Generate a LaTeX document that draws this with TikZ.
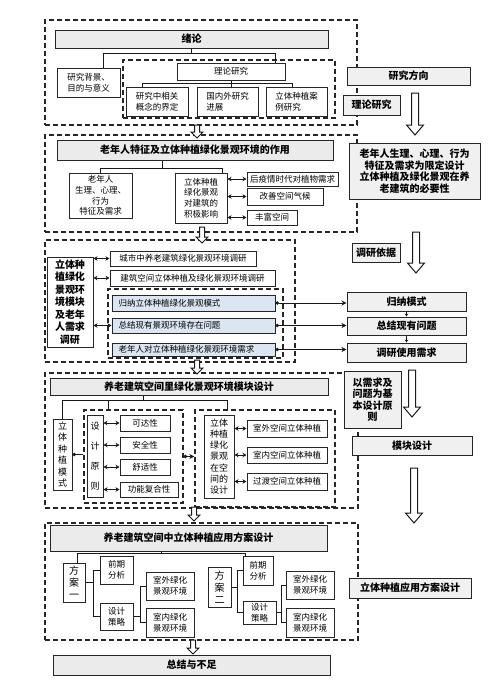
\documentclass[tikz,border=0pt]{standalone}
\usepackage{fontspec}
\setmainfont{Noto Sans CJK SC}
\usetikzlibrary{arrows.meta}
\definecolor{lblue}{HTML}{DCE6F2}
\newcommand\fs[2]{\fontsize{#1}{#2}\selectfont}
\newcommand\bx[7][]{\node[box,#1,minimum width={(#5-#3)*1pt},minimum height={(#6-#4)*1pt}] (#2) at ({(#3+#5)/2},{(#4+#6)/2}) {#7};}
\newcommand\harrow[6]{\draw[hollow] (#1-#4,#2) -- (#1+#4,#2) -- (#1+#4,#3-#6) -- (#1+#5,#3-#6) -- (#1,#3) -- (#1-#5,#3-#6) -- (#1-#4,#3-#6) -- cycle;}
\tikzset{
 box/.style={draw=black!85, line width=1pt, fill=white, inner sep=1pt, align=center, font=\fs{8.5}{10.8}},
 tbox/.style={fill=black!8, font=\bfseries\fs{10}{12}},
 rbox/.style={fill=black!6, font=\bfseries\fs{10}{11.5}},
 bbox/.style={fill=lblue, align=left, text width=150pt, inner xsep=6pt},
 dbox/.style={draw=black!85, fill=none, line width=1.3pt, dash pattern=on 5pt off 3pt},
 conn/.style={draw=black!90, line width=1pt},
 dbl/.style={conn, {Stealth[length=4pt,width=4.5pt]}-{Stealth[length=4pt,width=4.5pt]}},
 dotarr/.style={conn, {Circle[length=3.5pt]}-{Stealth[length=5pt,width=5pt]}},
 hollow/.style={draw=black!90, line width=1pt, fill=white},
}
\begin{document}
\begin{tikzpicture}[x=1pt,y=-1pt]
\useasboundingbox[fill=white] (0,0) rectangle (500,681);
% dashed section frames
\bx[dbox]{s1}{45}{20}{357}{125}{}
\bx[dbox]{s1i}{123}{60}{335}{118}{}
\bx[dbox]{s2}{45}{135}{357}{232}{}
\bx[dbox]{s3}{45}{240}{295}{362}{}
\bx[dbox]{s3i}{108}{289}{283}{358}{}
\bx[dbox]{s4}{45}{373}{358}{508}{}
\bx[dbox]{d41}{84}{410}{183}{503}{}
\bx[dbox]{d42}{195}{410}{335}{507}{}
\bx[dbox]{s5}{45}{523}{358}{640}{}
% hollow arrows
\harrow{197}{125}{138}{2.5}{6}{6}
\harrow{202}{227}{243}{2.5}{6}{6}
\harrow{197}{360}{374}{2.5}{6}{6}
\harrow{194}{507}{521}{2.5}{6}{6}
\harrow{193}{640}{654}{2.5}{6}{6}
\harrow{415}{93}{135}{3.5}{8.5}{10}
\harrow{416}{232}{273}{3.5}{8.5}{10}
\harrow{412}{370}{417}{3.5}{8.5}{10}
\harrow{414}{468}{523}{3.5}{8.5}{10}
% section 1
\bx[tbox]{t1}{55}{30}{328}{48}{绪论}
\bx[align=left]{b11}{57}{68}{120}{97}{研究背景、\\目的与意义}
\bx{b12}{177}{63}{285}{80}{理论研究}
\bx[align=left]{b13}{126}{87}{188}{116}{研究中相关\\概念的界定}
\bx[align=left]{b14}{197}{87}{258}{116}{国内外研究\\进展}
\bx[align=left]{b15}{266}{87}{327}{116}{立体种植案\\例研究}
% section 2
\bx[tbox]{t2}{57}{140}{333}{160}{老年人特征及立体种植绿化景观环境的作用}
\bx{b21}{69}{173}{132}{218}{老年人\\生理、心理、\\行为\\特征及需求}
\bx{b22}{175}{173}{227}{223}{立体种植\\绿化景观\\对建筑的\\积极影响}
\bx{b23}{247}{172}{338}{186}{后疫情时代对植物需求}
\bx{b24}{247}{188}{323}{205}{改善空间气候}
\bx{b25}{247}{210}{297}{225}{丰富空间}
% section 3
\bx[font=\bfseries\fs{10}{12.5}]{b31}{47}{257}{93}{347}{立体种\\植绿化\\景观环\\境模块\\及老年\\人需求\\调研}
\bx{b32}{110}{251}{256}{266}{城市中养老建筑绿化景观环境调研}
\bx{b33}{110}{270}{275}{286}{建筑空间立体种植及绿化景观环境调研}
\bx[bbox]{b34}{112}{295}{275}{311}{归纳立体种植绿化景观模式}
\bx[bbox]{b35}{112}{318}{275}{333}{总结现有景观环境存在问题}
\bx[bbox]{b36}{112}{343}{275}{356}{老年人对立体种植绿化景观环境需求}
% section 4
\bx[tbox]{t4}{50}{378}{328}{395}{养老建筑空间里绿化景观环境模块设计}
\bx[font=\fs{9}{11.5}]{b41}{53}{419}{72}{490}{立\\体\\种\\植\\模\\式}
\bx[font=\fs{9}{20}]{b42}{87}{415}{103}{497}{设\\计\\原\\则}
\bx{b43}{120}{415}{170}{431}{可达性}
\bx{b44}{120}{437}{170}{453}{安全性}
\bx{b45}{120}{459}{170}{475}{舒适性}
\bx{b46}{120}{482}{178}{497}{功能复合性}
\bx[font=\fs{9}{11.3}]{b47}{204}{415}{234}{498}{立体\\种植\\绿化\\景观\\在空\\间的\\设计}
\bx{b48}{247}{420}{327}{437}{室外空间立体种植}
\bx{b49}{247}{447}{327}{463}{室内空间立体种植}
\bx{b410}{247}{473}{327}{490}{过渡空间立体种植}
% section 5
\bx[tbox]{t5}{50}{525}{327}{551}{养老建筑空间中立体种植应用方案设计}
\bx[font=\fs{10}{12}]{f1}{63}{563}{85}{602}{方\\案\\一}
\bx{p1a}{100}{556}{133}{584}{前期\\分析}
\bx{p1b}{100}{603}{133}{630}{设计\\策略}
\bx{q1a}{146}{572}{194}{600}{室外绿化\\景观环境}
\bx{q1b}{146}{608}{194}{637}{室内绿化\\景观环境}
\bx[font=\fs{10}{12}]{f2}{208}{567}{231}{607}{方\\案\\二}
\bx{p2a}{243}{556}{273}{585}{前期\\分析}
\bx{p2b}{243}{601}{276}{624}{设计\\策略}
\bx{q2a}{286}{571}{334}{599}{室外绿化\\景观环境}
\bx{q2b}{286}{608}{334}{637}{室内绿化\\景观环境}
\bx[tbox]{fin}{53}{655}{330}{675}{总结与不足}
% right column
\bx[rbox]{r1}{347}{67}{470}{85}{研究方向}
\bx[rbox]{r2}{343}{95}{400}{115}{理论研究}
\bx[rbox]{r3}{349}{143}{480}{199}{老年人生理、心理、行为\\特征及需求为限定设计\\立体种植及绿化景观在养\\老建筑的必要性}
\bx[rbox]{r4}{352}{243}{400}{262}{调研依据}
\bx[rbox]{r5}{347}{292}{466}{311}{归纳模式}
\bx[rbox]{r6}{347}{317}{466}{335}{总结现有问题}
\bx[rbox]{r7}{347}{343}{466}{362}{调研使用需求}
\bx[rbox]{r8}{344}{371}{401}{428}{以需求及\\问题为基\\本设计原\\则}
\bx[rbox]{r9}{352}{436}{472}{455}{模块设计}
\bx[rbox]{r10}{349}{578}{471}{598}{立体种植应用方案设计}
% connectors section 1
\coordinate (h1l) at (103,53); \coordinate (h1r) at (275,53);
\draw[conn] (t1.south) -- (t1.south |- h1l);
\draw[conn] (h1l |- b11.north) -- (h1l) -- (h1r) -- (h1r |- b12.north);
\coordinate (h2l) at (142,83); \coordinate (h2r) at (292,83);
\draw[conn] (b12.south) -- (b12.south |- b14.north);
\draw[conn] (h2l |- b13.north) -- (h2l) -- (h2r) -- (h2r |- b15.north);
% section 2
\coordinate (h3l) at (100,168); \coordinate (h3m) at (162,168); \coordinate (h3r) at (222,168);
\draw[conn] (h3m |- t2.south) -- (h3m);
\draw[conn] (h3l |- b21.north) -- (h3l) -- (h3r) -- (h3r |- b22.north);
\draw[dbl] (b23.west -| b22.east) -- (b23.west);
\draw[dbl] (b24.west -| b22.east) -- (b24.west);
\draw[dbl] (b25.west -| b22.east) -- (b25.west);
% section 3
\draw[dbl] (b32.west -| b31.east) -- (b32.west);
\draw[dbl] (b33.west -| b31.east) -- (b33.west);
\draw[dbl] (b35.west -| b31.east) -- (b35.west);
\draw[dotarr] (b34.east) -- (b34.east -| r5.west);
\draw[dotarr] (b35.east) -- (b35.east -| r6.west);
\draw[dotarr] (b36.east) -- (b36.east -| r7.west);
\draw[conn, -{Stealth[length=3pt,width=3.5pt]}] (r5.south) -- (r6.north);
\draw[conn, -{Stealth[length=3pt,width=3.5pt]}] (r6.south) -- (r7.north);
% section 4
\coordinate (h4a) at (62,400); \coordinate (h4b) at (108,400);
\coordinate (h4c) at (143,400); \coordinate (h4d) at (227,400);
\draw[conn] (h4c |- t4.south) -- (h4c);
\draw[conn] (h4a |- b41.north) -- (h4a) -- (h4d) -- (h4d |- d42.north);
\draw[conn] (h4b) -- (h4b |- d41.north);
\draw[conn, {Circle[length=3.5pt]}-] (b41.east) -- (b41.east -| d41.west);
\draw[dotarr] (d41.east) -- (d41.east -| d42.west);
\foreach \n in {b43,b44,b45,b46} \draw[dbl] (\n.west -| b42.east) -- (\n.west);
\foreach \n in {b48,b49,b410} \draw[dbl] (\n.west -| b47.east) -- (\n.west);
% section 5
\coordinate (h5a) at (77,553); \coordinate (h5m) at (161,553); \coordinate (h5b) at (245,553);
\draw[conn] (h5m |- t5.south) -- (h5m);
\draw[conn] (h5a |- f1.north) -- (h5a) -- (h5b) -- (h5b |- p2a.north);
\coordinate (k1) at (93,0); \coordinate (k2) at (140,0);
\coordinate (k3) at (237,0); \coordinate (k4) at (281,0);
\draw[conn] (f1.east) -- (k1 |- f1.east);
\draw[conn] (p1a.west) -| (k1 |- p1b.west) -- (p1b.west);
\draw[conn] (p1b.east) -- (k2 |- p1b.east);
\draw[conn] (q1a.west) -| (k2 |- q1b.west) -- (q1b.west);
\draw[conn] (f2.east) -- (k3 |- f2.east);
\draw[conn] (p2a.west) -| (k3 |- p2b.west) -- (p2b.west);
\draw[conn] (p2b.east) -- (k4 |- p2b.east);
\draw[conn] (q2a.west) -| (k4 |- q2b.west) -- (q2b.west);
\end{tikzpicture}
\end{document}
